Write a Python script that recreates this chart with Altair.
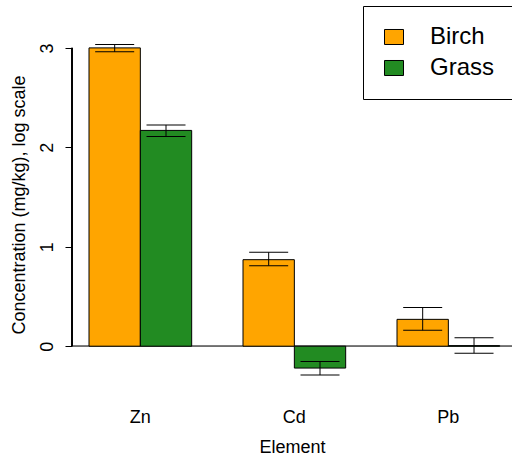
import altair as alt
import pandas as pd

# Mean concentrations (log10 mg/kg) with lower / upper error limits
elements = ["Zn", "Cd", "Pb"]
series = ["Birch", "Grass"]
birch_mean = [3.00, 0.87, 0.27]
birch_low = [2.96, 0.81, 0.16]
birch_high = [3.035, 0.945, 0.39]
grass_mean = [2.17, -0.22, 0.005]
grass_low = [2.11, -0.29, -0.07]
grass_high = [2.225, -0.155, 0.085]

colors = ["#FFA500", "#228B22"]
FONT = "Liberation Sans"

rows = []
for i, el in enumerate(elements):
    rows.append({"Element": el, "Series": "Birch", "Mean": birch_mean[i],
                 "Low": birch_low[i], "High": birch_high[i]})
    rows.append({"Element": el, "Series": "Grass", "Mean": grass_mean[i],
                 "Low": grass_low[i], "High": grass_high[i]})
df = pd.DataFrame(rows)

W, H = 440, 353

x_enc = alt.X(
    "Element:N", sort=elements,
    scale=alt.Scale(paddingInner=1 / 3, paddingOuter=0.0952, align=0.58),
    axis=alt.Axis(title="Element", ticks=False, domain=False, labelAngle=0,
                  labelFont=FONT, labelFontSize=18, labelColor="black",
                  labelPadding=27, titleFont=FONT, titleFontSize=18,
                  titleFontWeight="normal", titleColor="black", titlePadding=12),
)
xo_enc = alt.XOffset("Series:N", sort=series,
                     scale=alt.Scale(paddingInner=0, paddingOuter=0))
y_scale = alt.Scale(domain=[-0.35, 3.2], nice=False, zero=False)

bars = alt.Chart(df).mark_bar(stroke="black", strokeWidth=1).encode(
    x=x_enc,
    xOffset=xo_enc,
    y=alt.Y("Mean:Q", scale=y_scale,
            axis=alt.Axis(title="Concentration (mg/kg), log scale",
                          values=[0, 1, 2, 3], format="d", grid=False,
                          domain=False, tickSize=7, tickColor="black",
                          labelAngle=270, labelAlign="center",
                          labelBaseline="bottom", labelPadding=9,
                          labelFont=FONT, labelFontSize=18, labelColor="black",
                          titleFont=FONT, titleFontSize=18,
                          titleFontWeight="normal", titleColor="black",
                          titlePadding=10)),
    y2=alt.datum(0),
    color=alt.Color(
        "Series:N", sort=series,
        scale=alt.Scale(domain=series, range=colors),
        legend=alt.Legend(
            title=None, orient="none", legendX=291, legendY=-22,
            padding=19, strokeColor="black", fillColor="white",
            symbolType="M-1,-0.79L1,-0.79L1,0.79L-1,0.79Z", symbolSize=361,
            symbolStrokeColor="black", symbolStrokeWidth=1,
            symbolOpacity=1, labelFont=FONT, labelFontSize=24,
            labelColor="black", labelOffset=24, rowPadding=7,
            cornerRadius=0),
    ),
)

stems = alt.Chart(df).mark_rule(color="black", strokeWidth=1).encode(
    x=alt.X("Element:N", sort=elements), xOffset=alt.XOffset("Series:N", sort=series),
    y="Low:Q", y2="High:Q",
)
caps_hi = alt.Chart(df).mark_tick(color="black", thickness=1, size=39,
                                  opacity=1, orient="horizontal").encode(
    x=alt.X("Element:N", sort=elements), xOffset=alt.XOffset("Series:N", sort=series),
    y="High:Q",
)
caps_lo = alt.Chart(df).mark_tick(color="black", thickness=1, size=39,
                                  opacity=1, orient="horizontal").encode(
    x=alt.X("Element:N", sort=elements), xOffset=alt.XOffset("Series:N", sort=series),
    y="Low:Q",
)

zero_line = alt.Chart(df).mark_rule(color="#6e6e6e", strokeWidth=1).encode(
    x=alt.value(0), x2=alt.value(W), y=alt.datum(0),
)
y_axis_line = alt.Chart(df).mark_rule(color="black", strokeWidth=1).encode(
    x=alt.value(0), y=alt.datum(0), y2=alt.datum(3),
)

chart = alt.layer(zero_line, bars, stems, caps_hi, caps_lo, y_axis_line).properties(
    width=W, height=H,
    autosize=alt.AutoSizeParams(type="none"),
    padding={"left": 72, "top": 28, "right": 0, "bottom": 82},
).configure(background="white").configure_view(strokeWidth=0, stroke="transparent")

chart.save("out.html", embed_options={"renderer": "svg", "actions": False})
